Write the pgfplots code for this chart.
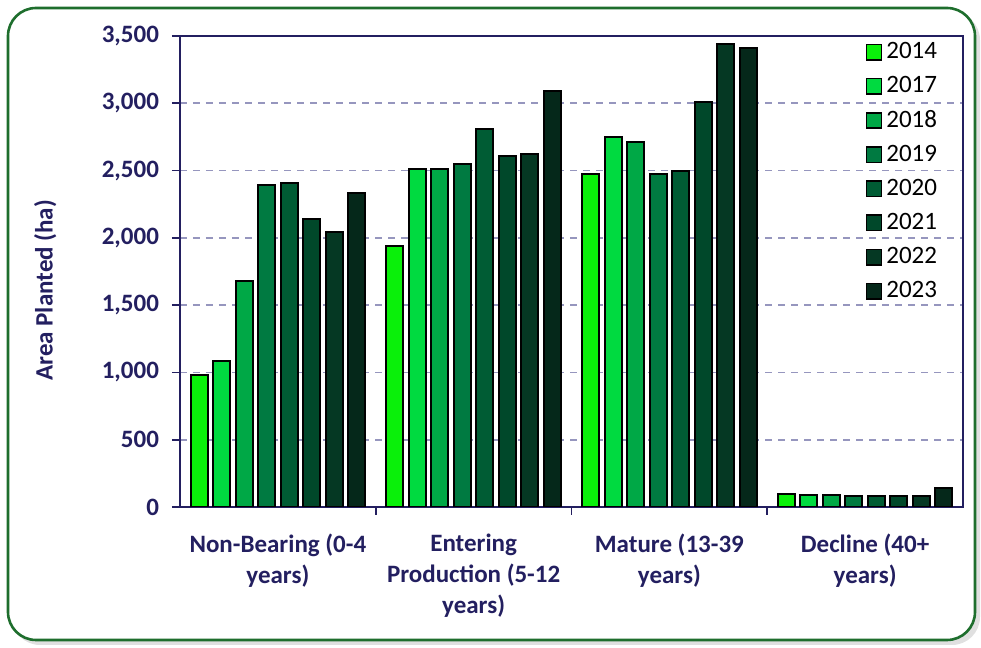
\documentclass[border=0pt]{standalone}
\usepackage{pgfplots}
\pgfplotsset{compat=1.18}
\usepackage{fontspec}
\setmainfont{Carlito}
\definecolor{navy}{RGB}{35,31,96}
\definecolor{gridc}{RGB}{150,150,190}
\definecolor{framegreen}{RGB}{30,110,45}
\definecolor{cA}{RGB}{10,240,10}
\definecolor{cB}{RGB}{0,218,64}
\definecolor{cC}{RGB}{0,168,70}
\definecolor{cD}{RGB}{0,122,65}
\definecolor{cE}{RGB}{0,92,52}
\definecolor{cF}{RGB}{0,72,42}
\definecolor{cG}{RGB}{5,56,35}
\definecolor{cH}{RGB}{5,40,26}
\begin{document}
\begin{tikzpicture}[x=1pt,y=1pt]
\useasboundingbox (0,0) rectangle (490.5,324);
\fill[black!12, rounded corners=14pt] (6,1.5) rectangle (490,318);
\draw[fill=white, draw=framegreen, line width=1.3pt, rounded corners=14pt] (4,4) rectangle (487.5,320);
\begin{axis}[
  at={(90pt,306pt)}, anchor=north west,
  scale only axis, width=391.5pt, height=235.5pt,
  ymin=0, ymax=3500, xmin=-0.5, xmax=3.5,
  ybar=2.75pt, bar width=8.5pt,
  axis line style={navy, line width=0.9pt},
  tick pos=left, tick align=outside,
  xtick={0,1,2,3},
  xticklabels={{Non-Bearing (0-4\\years)},{Entering\\Production (5-12\\years)},{Mature (13-39\\years)},{Decline (40+\\years)}},
  xticklabel style={align=center, font=\fontsize{12.5}{15.5}\selectfont\bfseries, text=navy, yshift=-6pt},
  major x tick style={draw=none},
  minor xtick={0.5,1.5,2.5},
  minor x tick style={navy, line width=0.9pt},
  minor tick length=4pt,
  ytick={0,500,...,3500},
  major tick length=4pt,
  y tick style={navy, line width=0.9pt},
  yticklabel style={font=\fontsize{12.5}{15}\selectfont\bfseries, text=navy, xshift=-3pt},
  /pgf/number format/1000 sep={,},
  /pgf/number format/assume math mode=true,
  ymajorgrids,
  major grid style={gridc, line width=0.8pt, dash pattern=on 3.5pt off 3pt},
  ylabel={Area Planted (ha)},
  every axis y label/.style={at={(axis description cs:-0.172,0.46)}, rotate=90, anchor=center, font=\fontsize{12.5}{15}\selectfont\bfseries, text=navy},
  legend style={at={(rel axis cs:0.975,1.0)}, anchor=north east, draw=none, fill=none,
    font=\fontsize{12.5}{15}\selectfont, row sep=3.4pt, inner sep=1pt, cells={anchor=west}},
  legend image code/.code={\draw[#1, line width=0.9pt] (0pt,-3.8pt) rectangle (7.5pt,3.8pt);},
  every axis plot/.append style={draw=black, line width=1pt},
]
\addplot[fill=cA] coordinates {(0,981) (1,1939) (2,2474) (3,97)};
\addplot[fill=cB] coordinates {(0,1088) (1,2511) (2,2749) (3,90)};
\addplot[fill=cC] coordinates {(0,1676) (1,2511) (2,2712) (3,87)};
\addplot[fill=cD] coordinates {(0,2392) (1,2548) (2,2474) (3,80)};
\addplot[fill=cE] coordinates {(0,2410) (1,2808) (2,2496) (3,80)};
\addplot[fill=cF] coordinates {(0,2140) (1,2608) (2,3009) (3,80)};
\addplot[fill=cG] coordinates {(0,2043) (1,2622) (2,3440) (3,85)};
\addplot[fill=cH] coordinates {(0,2330) (1,3093) (2,3410) (3,140)};
\legend{2014,2017,2018,2019,2020,2021,2022,2023}
\end{axis}
\end{tikzpicture}
\end{document}
